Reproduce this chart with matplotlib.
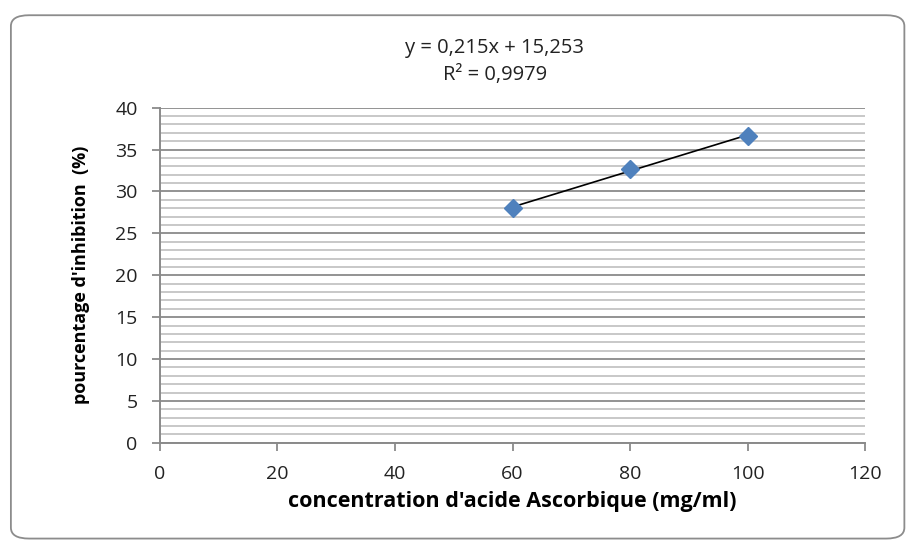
import numpy as np
import matplotlib.pyplot as plt
from matplotlib.patches import FancyBboxPatch
from matplotlib.ticker import MultipleLocator

# concentration (mg/ml) and inhibition (%)
concentration = [60, 80, 100]
inhibition = [28.04, 32.68, 36.64]

slope = 0.215
intercept = 15.253
r2_label = "R² = 0,9979"
eq_label = "y = 0,215x + 15,253"

plt.rcParams['font.family'] = ['Open Sans', 'DejaVu Sans']

fig = plt.figure(figsize=(9.08, 5.44), dpi=100)

# chart frame
frame = FancyBboxPatch((0.012, 0.01), 0.984, 0.962, boxstyle="round,pad=0,rounding_size=0.02",
                       transform=fig.transFigure, facecolor="white", edgecolor="#8c8c8c",
                       linewidth=1.3, zorder=-1)
fig.patches.append(frame)

ax = fig.add_axes([0.176, 0.186, 0.777, 0.616])
ax.set_zorder(2)
ax.patch.set_alpha(0)
ax.set_xlim(0, 120)
ax.set_ylim(0, 40)

ax.xaxis.set_major_locator(MultipleLocator(20))
ax.yaxis.set_major_locator(MultipleLocator(5))
ax.yaxis.set_minor_locator(MultipleLocator(1))

ax.grid(axis="y", which="major", color="#8a8a8a", linewidth=1.3)
ax.grid(axis="y", which="minor", color="#c4c4c4", linewidth=1.3)
ax.set_axisbelow(True)

for side in ("top", "right"):
    ax.spines[side].set_visible(False)
for side in ("left", "bottom"):
    ax.spines[side].set_color("#8a8a8a")
    ax.spines[side].set_linewidth(1.4)

ax.tick_params(axis="both", which="major", direction="out", length=6, width=1.3,
               color="#8a8a8a", labelsize=14, labelcolor="#222222")
ax.tick_params(axis="y", which="minor", length=0)
ax.tick_params(axis="x", pad=10)
ax.tick_params(axis="y", pad=10)

# linear trendline over the data range
xs = np.array([min(concentration), max(concentration)])
ax.plot(xs, slope * xs + intercept, color="black", linewidth=1.2, zorder=3)
ax.plot(concentration, inhibition, linestyle="none", marker="D", markersize=9,
        color="#4f81bd", markeredgecolor="#4f81bd", zorder=4)

ax.set_xlabel("concentration d'acide Ascorbique (mg/ml)", fontsize=15.5, fontweight="bold",
              labelpad=6)
ax.set_ylabel("pourcentage d'inhibition  (%)", fontsize=13, fontweight="bold", labelpad=18,
              fontstretch="condensed")

fig.text(0.545, 0.911, eq_label, ha="center", va="center", fontsize=14.5, color="#222222")
fig.text(0.545, 0.862, r2_label, ha="center", va="center", fontsize=14.5, color="#222222")

fig.savefig("out.png", dpi=100)
